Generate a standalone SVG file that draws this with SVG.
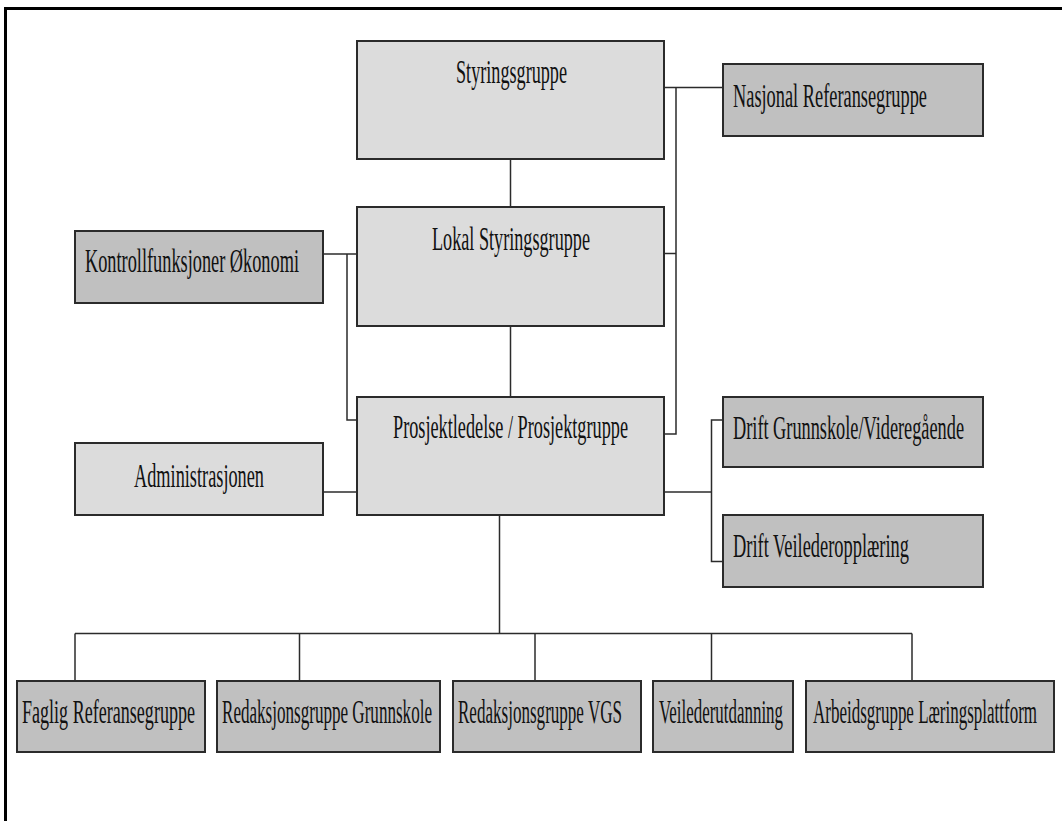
<svg xmlns="http://www.w3.org/2000/svg" width="1062" height="821" viewBox="0 0 1062 821">
<style>
.lt{fill:#dcdcdc;stroke:#2b2b2b;stroke-width:2}
.dk{fill:#c0c0c0;stroke:#2b2b2b;stroke-width:2}
.t{font-family:"Liberation Serif","Times New Roman",serif;font-size:33px;fill:#111}
.c{fill:none;stroke:#2b2b2b;stroke-width:1.5}
</style>
<rect width="1062" height="821" fill="#ffffff"/>
<g id="frame">
<line x1="4" y1="8.5" x2="1062" y2="8.5" stroke="#000" stroke-width="3"/>
<line x1="5.5" y1="7" x2="5.5" y2="821" stroke="#000" stroke-width="3"/>
</g>
<g id="connectors">
<line class="c" x1="510.5" y1="159" x2="510.5" y2="207"/>
<line class="c" x1="510.5" y1="326" x2="510.5" y2="397"/>
<polyline class="c" points="664,87.5 723,87.5"/>
<polyline class="c" points="676,87.5 676,434 664,434"/>
<line class="c" x1="664" y1="253.5" x2="676" y2="253.5"/>
<polyline class="c" points="323,254 357,254"/>
<polyline class="c" points="347,254 347,420 357,420"/>
<line class="c" x1="323" y1="492" x2="357" y2="492"/>
<line class="c" x1="664" y1="492" x2="711.5" y2="492"/>
<polyline class="c" points="723,420 711.5,420 711.5,561.5 723,561.5"/>
<line class="c" x1="499.5" y1="515" x2="499.5" y2="633.5"/>
<line class="c" x1="75" y1="633.5" x2="912" y2="633.5"/>
<line class="c" x1="75" y1="633.5" x2="75" y2="681"/>
<line class="c" x1="299.5" y1="633.5" x2="299.5" y2="681"/>
<line class="c" x1="535" y1="633.5" x2="535" y2="681"/>
<line class="c" x1="711.5" y1="633.5" x2="711.5" y2="681"/>
<line class="c" x1="912" y1="633.5" x2="912" y2="681"/>
</g>
<g id="styringsgruppe">
<rect class="lt" x="357" y="41" width="307" height="118"/>
<text class="t" x="456" y="83" textLength="111" lengthAdjust="spacingAndGlyphs">Styringsgruppe</text>
</g>
<g id="nasjonal">
<rect class="dk" x="723" y="64" width="260" height="72"/>
<text class="t" x="733" y="107" textLength="194" lengthAdjust="spacingAndGlyphs">Nasjonal Referansegruppe</text>
</g>
<g id="lokal">
<rect class="lt" x="357" y="207" width="307" height="119"/>
<text class="t" x="432" y="250" textLength="158" lengthAdjust="spacingAndGlyphs">Lokal Styringsgruppe</text>
</g>
<g id="kontroll">
<rect class="dk" x="75" y="231" width="248" height="72"/>
<text class="t" x="85" y="272" textLength="214" lengthAdjust="spacingAndGlyphs">Kontrollfunksjoner Økonomi</text>
</g>
<g id="prosjekt">
<rect class="lt" x="357" y="397" width="307" height="118"/>
<text class="t" x="393" y="438" textLength="235" lengthAdjust="spacingAndGlyphs">Prosjektledelse / Prosjektgruppe</text>
</g>
<g id="administrasjonen">
<rect class="lt" x="75" y="443" width="248" height="72"/>
<text class="t" x="134" y="487" textLength="130" lengthAdjust="spacingAndGlyphs">Administrasjonen</text>
</g>
<g id="drift-grunnskole">
<rect class="dk" x="723" y="397" width="260" height="70"/>
<text class="t" x="733" y="439" textLength="231" lengthAdjust="spacingAndGlyphs">Drift Grunnskole/Videregående</text>
</g>
<g id="drift-veileder">
<rect class="dk" x="723" y="515" width="260" height="72"/>
<text class="t" x="733" y="557" textLength="176" lengthAdjust="spacingAndGlyphs">Drift Veilederopplæring</text>
</g>
<g id="faglig">
<rect class="dk" x="17" y="681" width="188" height="71"/>
<text class="t" x="22" y="723" textLength="173" lengthAdjust="spacingAndGlyphs">Faglig Referansegruppe</text>
</g>
<g id="red-grunnskole">
<rect class="dk" x="217" y="681" width="223" height="71"/>
<text class="t" x="222" y="723" textLength="210" lengthAdjust="spacingAndGlyphs">Redaksjonsgruppe Grunnskole</text>
</g>
<g id="red-vgs">
<rect class="dk" x="453" y="681" width="188" height="71"/>
<text class="t" x="458" y="723" textLength="164" lengthAdjust="spacingAndGlyphs">Redaksjonsgruppe VGS</text>
</g>
<g id="veilederutdanning">
<rect class="dk" x="653" y="681" width="140" height="71"/>
<text class="t" x="659" y="723" textLength="124" lengthAdjust="spacingAndGlyphs">Veilederutdanning</text>
</g>
<g id="arbeidsgruppe">
<rect class="dk" x="806" y="681" width="248" height="71"/>
<text class="t" x="813" y="723" textLength="224" lengthAdjust="spacingAndGlyphs">Arbeidsgruppe Læringsplattform</text>
</g>
</svg>
